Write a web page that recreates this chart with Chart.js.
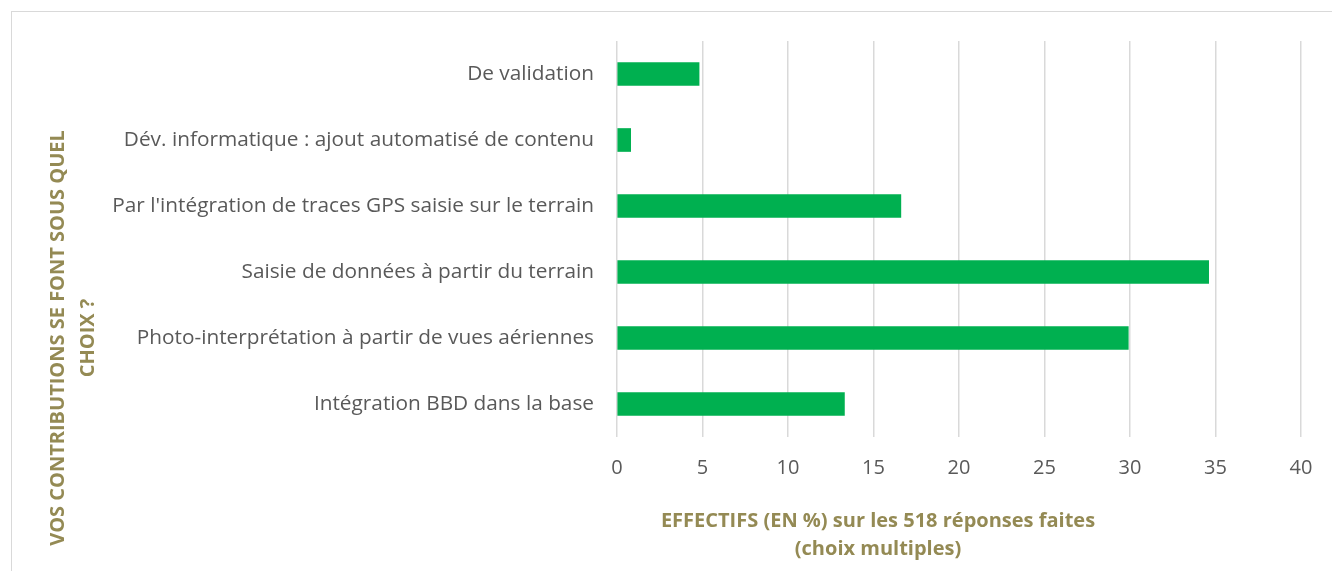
<!DOCTYPE html>
<html>
<head>
<meta charset="utf-8">
<script src="https://cdn.jsdelivr.net/npm/chart.js@4/dist/chart.umd.min.js"></script>
<style>
  html, body { margin: 0; padding: 0; background: #fff; }
  #wrap { position: relative; width: 1332px; height: 571px; }
</style>
</head>
<body>
<div id="wrap"><canvas id="chart1" width="1332" height="571"></canvas></div>
<script>
'use strict';

var categories = [
	'De validation',
	'Dév. informatique : ajout automatisé de contenu',
	"Par l'intégration de traces GPS saisie sur le terrain",
	'Saisie de données à partir du terrain',
	'Photo-interprétation à partir de vues aériennes',
	'Intégration BBD dans la base'
];
var percentages = [4.8, 0.8, 16.6, 34.6, 29.9, 13.3];
var xTicks = [0, 5, 10, 15, 20, 25, 30, 35, 40];

var TITLE_COLOR = '#948a54';
var TEXT_COLOR = '#595959';
var GRID_COLOR = '#d9d9d9';

// frame and axis titles drawn by hand, Excel style
var excelDecor = {
	id: 'excelDecor',
	beforeDraw: function(chart) {
		var c = chart.ctx;
		c.save();
		c.strokeStyle = GRID_COLOR;
		c.lineWidth = 1;
		c.strokeRect(11.5, 11.5, 2000, 2000);
		c.restore();
	},
	afterDraw: function(chart) {
		var c = chart.ctx;
		var area = chart.chartArea;
		c.save();
		c.fillStyle = TITLE_COLOR;
		c.font = 'bold 20px "Open Sans", sans-serif';
		c.textAlign = 'center';
		c.textBaseline = 'middle';
		var cx = area.left + 261;
		c.fillText('EFFECTIFS (EN %) sur les 518 réponses faites', cx, area.bottom + 84);
		c.fillText('(choix multiples)', cx, area.bottom + 112);

		c.translate(58, area.top + 297);
		c.rotate(-Math.PI / 2);
		c.fillText('VOS CONTRIBUTIONS SE FONT SOUS QUEL', 0, 0);
		c.fillText('CHOIX ?', 0, 30);
		c.restore();
	}
};

var ctx = document.getElementById('chart1').getContext('2d');
var chart = new Chart(ctx, {
	type: 'bar',
	data: {
		labels: categories,
		datasets: [{
			data: percentages,
			backgroundColor: '#00b050',
			borderWidth: 0,
			barThickness: 23
		}]
	},
	options: {
		indexAxis: 'y',
		responsive: false,
		animation: false,
		layout: { padding: { top: 41, right: 31, left: 0, bottom: 0 } },
		plugins: {
			legend: { display: false },
			tooltip: { enabled: false }
		},
		scales: {
			x: {
				min: 0,
				max: 40,
				afterBuildTicks: function(scale) {
					scale.ticks = xTicks.map(function(v) { return { value: v }; });
				},
				afterFit: function(scale) { scale.height = 134; },
				grid: { color: GRID_COLOR, lineWidth: 1.5, drawTicks: false },
				border: { display: false },
				ticks: {
					color: TEXT_COLOR,
					padding: 19,
					font: { family: '"Open Sans", sans-serif', size: 20 }
				}
			},
			y: {
				afterFit: function(scale) { scale.width = 617; },
				grid: { display: false, drawTicks: false },
				border: { display: false },
				ticks: {
					color: TEXT_COLOR,
					padding: 23,
					font: { family: '"Open Sans", sans-serif', size: 20.8 }
				}
			}
		}
	},
	plugins: [excelDecor]
});
</script>
</body>
</html>
